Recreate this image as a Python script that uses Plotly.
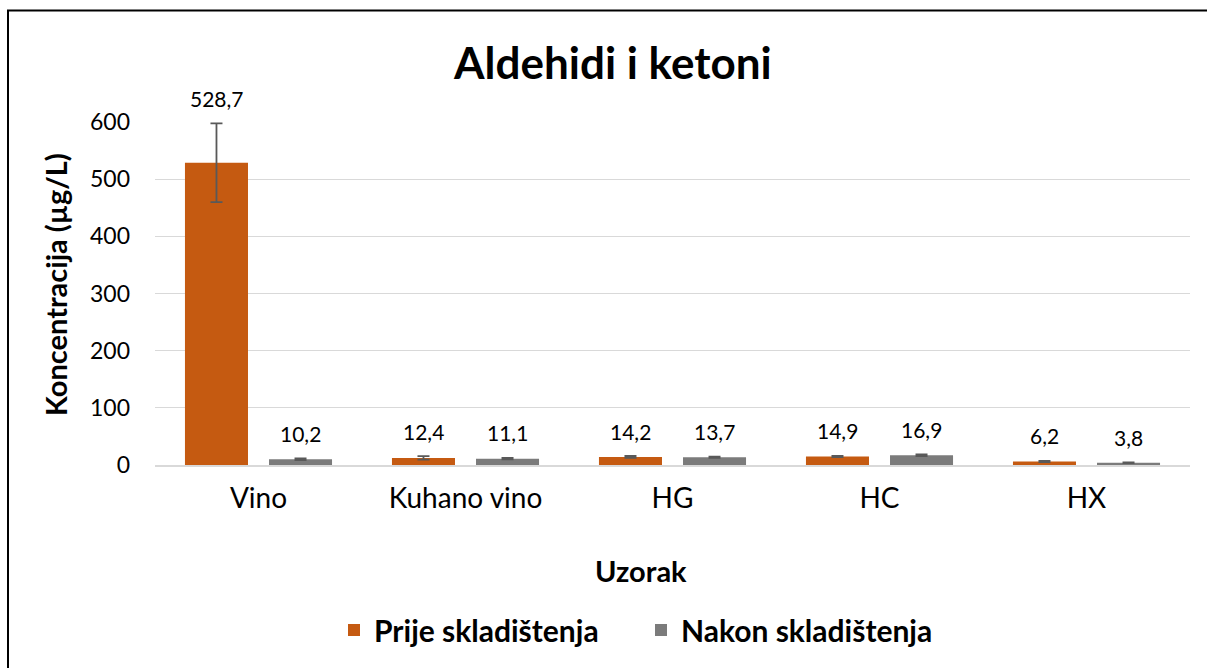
import plotly.graph_objects as go

categories = ["Vino", "Kuhano vino", "HG", "HC", "HX"]
prije = [528.7, 12.4, 14.2, 14.9, 6.2]
nakon = [10.2, 11.1, 13.7, 16.9, 3.8]
prije_err = [69, 3.0, 1.5, 1.2, 1.0]
nakon_err = [1.5, 1.2, 1.0, 1.5, 0.6]
series_names = ["Prije skladištenja", "Nakon skladištenja"]
y_ticks = [0, 100, 200, 300, 400, 500, 600]

ORANGE = "#C55A11"
GRAY = "#7B7B7B"
FONT = "Lato"

# plot area in pixels
L, R, T, B = 155, 1190, 122, 465
PW, PH = R - L, B - T


def px(xp):
    return (xp - L) / PW


def py(yp):
    return (B - yp) / PH


fig = go.Figure()
for name, vals, errs, col in [(series_names[0], prije, prije_err, ORANGE),
                              (series_names[1], nakon, nakon_err, GRAY)]:
    fig.add_trace(go.Bar(
        x=categories, y=vals, name=f"<b>{name}</b>", marker_color=col,
        marker_line_width=0,
        error_y=dict(type="data", array=errs, visible=True, color="#595959",
                     thickness=1.8, width=6),
    ))


def fmt(v):
    return f"{v:.1f}".replace(".", ",")


ann = []
for vals, errs, xs in [(prije, prije_err, -42), (nakon, nakon_err, 42)]:
    for c, v, e in zip(categories, vals, errs):
        ann.append(dict(x=c, y=v + e, xref="x", yref="y", text=fmt(v),
                        showarrow=False, xshift=xs, yshift=25, yanchor="middle",
                        font=dict(family=FONT, size=21, color="#000000")))

ann.append(dict(x=px(612), y=py(62), xref="paper", yref="paper",
                text="<b>Aldehidi i ketoni</b>", showarrow=False,
                font=dict(family=FONT, size=44, color="#000000"),
                xanchor="center", yanchor="middle"))
ann.append(dict(x=px(641), y=py(570), xref="paper", yref="paper",
                text="<b>Uzorak</b>", showarrow=False,
                font=dict(family=FONT, size=29, color="#000000"),
                xanchor="center", yanchor="middle"))
ann.append(dict(x=px(55), y=py(285), xref="paper", yref="paper",
                text="<b>Koncentracija (µg/L)</b>", showarrow=False, textangle=-90,
                font=dict(family=FONT, size=29, color="#000000"),
                xanchor="center", yanchor="middle"))

fig.update_layout(
    width=1207, height=668,
    margin=dict(l=L, r=1207 - R, t=T, b=668 - B),
    paper_bgcolor="white", plot_bgcolor="white",
    barmode="group", bargap=0.188, bargroupgap=0.25,
    font=dict(family=FONT, size=21, color="#000000"),
    annotations=ann,
    showlegend=True,
    legend=dict(orientation="h", x=px(641), y=py(630),
                xanchor="center", yanchor="middle",
                font=dict(family=FONT, size=30, color="#000000"),
                entrywidth=262, entrywidthmode="pixels", traceorder="normal"),
    shapes=[dict(type="rect", xref="paper", yref="paper",
                 x0=px(8), x1=px(1220), y0=py(690), y1=py(10.5),
                 line=dict(color="#000000", width=2), fillcolor="rgba(0,0,0,0)",
                 layer="below")],
)
fig.update_xaxes(showline=True, linecolor="#D9D9D9", linewidth=1.5,
                 tickfont=dict(family=FONT, size=28), ticks="", showgrid=False,
                 ticklabelstandoff=8)
fig.update_yaxes(range=[0, 600], tickvals=y_ticks, showgrid=True, gridcolor="#D9D9D9",
                 gridwidth=1.2, zeroline=False, showline=False, ticks="",
                 tickfont=dict(family=FONT, size=23), ticklabelstandoff=24)

fig.write_html("out.html", post_script="document.body.style.margin='0px';",
               config={"displayModeBar": False})
